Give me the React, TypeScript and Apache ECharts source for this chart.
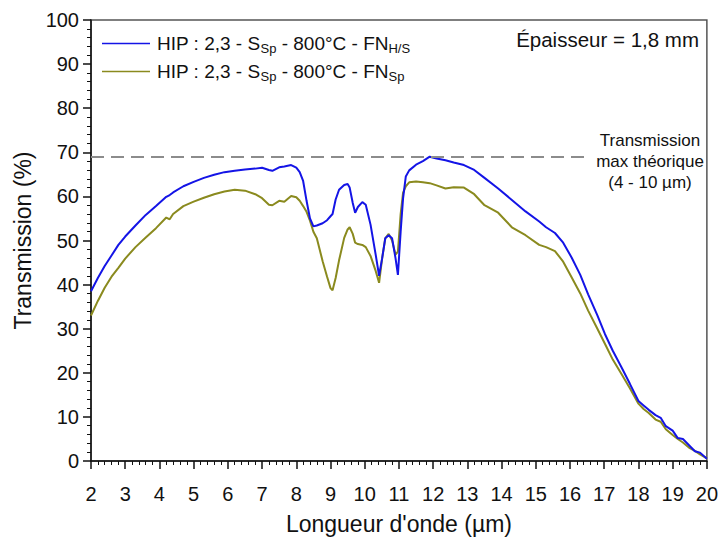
import React, { useEffect, useRef } from "react";
import * as echarts from "echarts";

const wavelengths = [
  2.0, 2.2, 2.4, 2.6, 2.8, 3.0, 3.3, 3.6, 3.9, 4.2, 4.3, 4.4, 4.7, 5.0, 5.3, 5.6, 5.9, 6.2, 6.5, 6.8,
  7.0, 7.2, 7.3, 7.5, 7.65, 7.85, 8.0, 8.1, 8.2, 8.3, 8.4, 8.5, 8.6, 8.77, 8.9, 9.0, 9.06, 9.15, 9.25,
  9.4, 9.5, 9.56, 9.65, 9.72, 9.8, 9.93, 10.03, 10.17, 10.32, 10.42, 10.51, 10.6, 10.7, 10.8, 10.9,
  10.97, 11.05, 11.12, 11.2, 11.3, 11.5, 11.7, 11.9, 12.1, 12.36, 12.6, 12.9, 13.2, 13.5, 13.9, 14.3,
  14.7, 15.1, 15.3, 15.56, 15.8, 16.05, 16.3, 16.53, 16.8, 17.02, 17.25, 17.5, 17.75, 18.0, 18.15,
  18.3, 18.5, 18.65, 18.8, 19.0, 19.15, 19.3, 19.5, 19.65, 19.8, 20.0,
];

const blueHS = [
  38.5, 41.5, 44.2, 46.6, 49.0, 50.9, 53.4, 55.8, 57.8, 59.9, 60.3, 60.9, 62.3, 63.3, 64.2, 64.9, 65.5,
  65.8, 66.1, 66.3, 66.5, 66.0, 65.8, 66.6, 66.8, 67.1, 66.5, 65.5, 63.5, 59.0, 55.0, 53.2, 53.4, 53.9,
  54.6, 55.5, 56.0, 59.3, 61.5, 62.6, 62.8, 62.0, 58.5, 56.3, 57.6, 58.7, 58.1, 53.6, 46.8, 42.0, 46.0,
  50.5, 51.2, 50.5, 46.0, 42.2, 52.0, 59.5, 64.5, 65.9, 67.2, 68.0, 69.0, 68.6, 68.2, 67.7, 67.1, 66.0,
  64.2, 61.8, 59.2, 56.6, 54.3, 53.0, 51.7, 49.5, 46.1, 42.2, 37.8, 33.0, 28.8, 25.0, 21.3, 17.5, 13.6,
  12.6, 11.6, 10.4, 9.8, 7.9, 6.9, 5.2, 5.0, 3.4, 2.2, 1.9, 0.5,
];

const oliveSp = [
  33.0, 36.3, 39.3, 41.8, 43.8, 45.9, 48.5, 50.7, 52.8, 55.2, 54.8, 56.0, 57.8, 58.8, 59.7, 60.5, 61.1,
  61.5, 61.3, 60.5, 59.6, 58.1, 58.0, 59.0, 58.8, 60.1, 59.8, 59.0, 57.8, 56.5, 54.5, 52.0, 50.5, 45.3,
  41.8, 39.2, 38.7, 41.5, 45.5, 50.6, 52.5, 53.0, 51.5, 49.5, 49.2, 49.0, 48.5, 46.5, 43.1, 40.4, 46.0,
  50.5, 51.5, 50.0, 46.8, 47.5, 56.0, 60.8, 62.3, 63.2, 63.4, 63.2, 63.0, 62.5, 61.8, 62.1, 62.0, 60.5,
  58.0, 56.3, 53.0, 51.2, 49.0, 48.5, 47.6, 45.2, 41.6, 38.0, 34.1, 30.0, 26.6, 23.0, 19.8, 16.5, 13.0,
  11.8, 10.9, 9.4, 8.9, 7.2, 5.9, 5.0, 4.2, 2.9, 2.3, 1.5, 0.6,
];

const maxTheoretical = 69;
const maxLineEnd = 16.59;

const seriesNames = ["FN H/S", "FN Sp"];
const legendLabels: Record<string, string> = {
  "FN H/S": "HIP : 2,3 - S{sub|Sp} - 800°C - FN{sub|H/S}",
  "FN Sp": "HIP : 2,3 - S{sub|Sp} - 800°C - FN{sub|Sp}",
};
const thicknessText = "Épaisseur = 1,8 mm";
const maxTextLines = ["Transmission", "max théorique", "(4 - 10 µm)"];
const xTitle = "Longueur d'onde (µm)";
const yTitle = "Transmission (%)";

const FONT = "'Liberation Sans', Arial, Helvetica, sans-serif";

export default function App() {
  const ref = useRef<HTMLDivElement>(null);
  useEffect(() => {
    if (!ref.current) return;
    const chart = echarts.init(ref.current, undefined, { renderer: "svg" });
    const toPairs = (ys: number[]) => wavelengths.map((x, i) => [x, ys[i]]);
    chart.setOption({
      animation: false,
      textStyle: { fontFamily: FONT },
      grid: {
        left: 91,
        right: 12,
        top: 20,
        bottom: 74,
        show: true,
        borderColor: "#555",
        borderWidth: 1.5,
        backgroundColor: "transparent",
      },
      legend: {
        orient: "vertical",
        left: 97,
        top: 29,
        icon: "rect",
        itemWidth: 48,
        itemHeight: 1.6,
        itemGap: 7,
        data: seriesNames,
        formatter: (name: string) => legendLabels[name],
        textStyle: {
          fontFamily: FONT,
          fontSize: 19,
          color: "#111",
          padding: [0, 0, 0, 2],
          rich: {
            sub: { fontSize: 13, fontFamily: FONT, color: "#111", padding: [10, 0, 0, 0] },
          },
        },
      },
      xAxis: {
        type: "value",
        min: 2,
        max: 20,
        interval: 1,
        name: xTitle,
        nameLocation: "middle",
        nameGap: 51,
        nameTextStyle: { fontSize: 23, color: "#111", fontFamily: FONT },
        axisLine: { show: true, lineStyle: { color: "#111", width: 1.5 } },
        axisTick: { show: true, length: 8, lineStyle: { color: "#111", width: 1.5 } },
        minorTick: { show: true, splitNumber: 5, length: 4, lineStyle: { color: "#111", width: 1 } },
        axisLabel: { fontSize: 20, color: "#111", margin: 23, fontFamily: FONT },
        splitLine: { show: false },
      },
      yAxis: {
        type: "value",
        min: 0,
        max: 100,
        interval: 10,
        name: yTitle,
        nameLocation: "middle",
        nameGap: 46,
        nameTextStyle: { fontSize: 23, color: "#111", fontFamily: FONT },
        axisLine: { show: true, lineStyle: { color: "#111", width: 1.5 } },
        axisTick: { show: true, length: 8, lineStyle: { color: "#111", width: 1.5 } },
        minorTick: { show: true, splitNumber: 5, length: 4, lineStyle: { color: "#111", width: 1 } },
        axisLabel: { fontSize: 20, color: "#111", margin: 12, fontFamily: FONT },
        splitLine: { show: false },
      },
      series: [
        {
          name: seriesNames[0],
          type: "line",
          data: toPairs(blueHS),
          symbol: "none",
          lineStyle: { color: "#1414e6", width: 2 },
          itemStyle: { color: "#1414e6" },
          z: 3,
          markLine: {
            silent: true,
            symbol: "none",
            label: { show: false },
            lineStyle: { color: "#8c8c8c", type: [13, 7], width: 2 },
            data: [[{ coord: [2, maxTheoretical] }, { coord: [maxLineEnd, maxTheoretical] }]],
          },
        },
        {
          name: seriesNames[1],
          type: "line",
          data: toPairs(oliveSp),
          symbol: "none",
          lineStyle: { color: "#8a8a1e", width: 2 },
          itemStyle: { color: "#8a8a1e" },
          z: 2,
        },
      ],
      graphic: [
        {
          type: "text",
          right: 22,
          top: 29,
          style: { text: thicknessText, font: `20.5px ${FONT}`, fill: "#111" },
        },
        ...maxTextLines.map((t, i) => ({
          type: "text",
          x: 650,
          y: 140 + i * 21,
          style: {
            text: t,
            font: `17px ${FONT}`,
            fill: "#111",
            textAlign: "center",
            textVerticalAlign: "middle",
          },
        })),
      ],
    });
    return () => chart.dispose();
  }, []);
  return <div ref={ref} style={{ width: 721, height: 540, position: "absolute", left: 0, top: 0 }} />;
}
